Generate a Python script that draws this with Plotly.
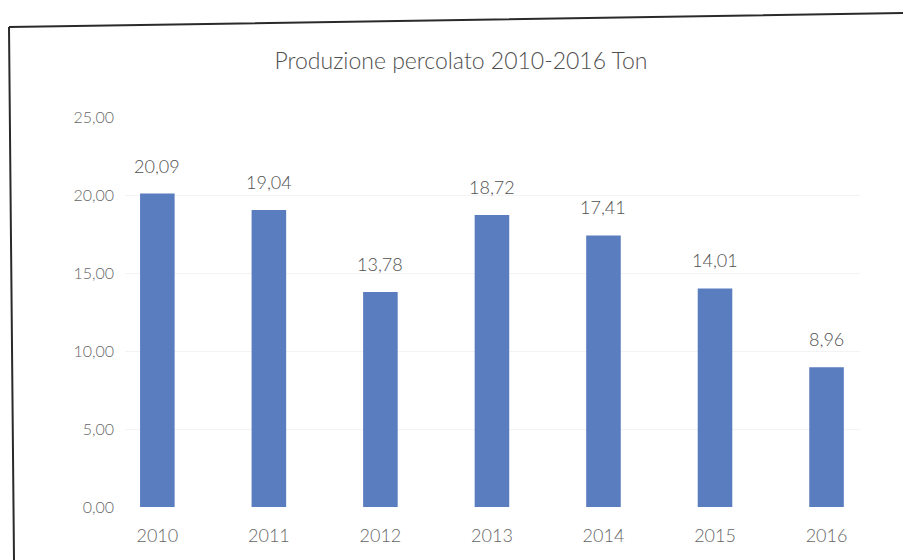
import plotly.graph_objects as go

years = ["2010", "2011", "2012", "2013", "2014", "2015", "2016"]
tons = [20.09, 19.04, 13.78, 18.72, 17.41, 14.01, 8.96]
y_ticks = [0, 5, 10, 15, 20, 25]

W, H = 904, 560
L, R, T, B = 125, 44, 117, 53
pw, ph = W - L - R, H - T - B


def px(x):
    return (x - L) / pw


def py(y):
    return (H - B - y) / ph


def fmt(v):
    return f"{v:.2f}".replace(".", ",")


text_col = "#666666"
font = "Lato, Calibri, 'Open Sans', sans-serif"

fig = go.Figure(
    go.Bar(
        x=years,
        y=tons,
        marker=dict(color="#5a7dbf", line=dict(width=0)),
        width=0.31,
        hoverinfo="x+y",
    )
)

# value labels above each bar
for i, v in enumerate(tons):
    fig.add_annotation(
        x=i, y=v, xref="x", yref="y", text=fmt(v), showarrow=False,
        yanchor="bottom", yshift=15,
        font=dict(size=18, color="#505050", family=font, weight=300),
    )

# outer frame of the chart area
frame = (
    f"M {px(9)} {py(27)} L {px(903)} {py(13)} "
    f"M {px(9)} {py(27)} L {px(14)} {py(560)} "
)
fig.add_shape(type="path", path=frame, xref="paper", yref="paper",
              line=dict(color="#2a2a2a", width=2))

fig.update_layout(
    width=W,
    height=H,
    margin=dict(l=L, r=R, t=T, b=B),
    paper_bgcolor="white",
    plot_bgcolor="white",
    separators=",.",
    showlegend=False,
    title=dict(
        text="Produzione percolato 2010-2016 Ton",
        xref="container",
        x=461 / W,
        xanchor="center",
        yref="container",
        y=1 - 61 / H,
        yanchor="middle",
        font=dict(size=23, color="#505050", family=font, weight=300),
    ),
    xaxis=dict(
        type="category",
        range=[-0.29, 6.3],
        showgrid=False,
        showline=False,
        ticks="",
        ticklabelstandoff=16,
        tickfont=dict(size=18, color=text_col, family=font, weight=300),
    ),
    yaxis=dict(
        range=[0, 25],
        tickvals=y_ticks,
        tickformat=".2f",
        showgrid=True,
        gridcolor="#f3f3f3",
        zeroline=False,
        showline=False,
        ticks="",
        ticklabelstandoff=10,
        tickfont=dict(size=16, color="#666666", family=font, weight=300),
    ),
)

fig.write_html("out.html")
